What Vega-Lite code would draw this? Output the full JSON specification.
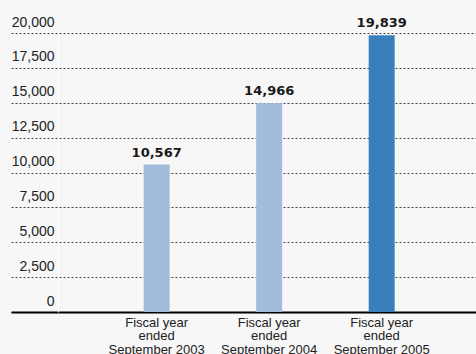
{
  "$schema": "https://vega.github.io/schema/vega-lite/v6.json",
  "autosize": "none",
  "width": 465,
  "height": 279,
  "padding": {"left": 11, "top": 33, "right": 0, "bottom": 42},
  "background": "#f7f7f7",
  "config": {"view": {"stroke": null}, "font": "Liberation Sans"},
  "data": {"values": [
    {"period": "2003", "revenue": 10567},
    {"period": "2004", "revenue": 14966},
    {"period": "2005", "revenue": 19839}
  ]},
  "encoding": {
    "x": {"field": "period", "type": "nominal", "sort": null,
      "scale": {"paddingInner": 0.769, "paddingOuter": 0.951, "align": 0.62},
      "axis": {"title": null, "ticks": false, "domainColor": "#000", "domainWidth": 2,
        "labelAngle": 0, "labelFontSize": 13, "labelColor": "#222", "labelPadding": 4,
        "labelLineHeight": 13.5, "labelBaseline": "top",
        "labelExpr": "['Fiscal year', 'ended', 'September ' + datum.label]"}},
    "y": {"field": "revenue", "type": "quantitative",
      "scale": {"domain": [0, 20000], "nice": false},
      "axis": {"title": null, "values": [0, 2500, 5000, 7500, 10000, 12500, 15000, 17500, 20000],
        "format": ",d", "offset": -47, "domain": true, "domainColor": "#ffffff", "domainWidth": 1,
        "ticks": false, "labelPadding": 4, "labelFontSize": 14, "labelColor": "#222",
        "labelBaseline": "alphabetic", "labelOffset": -7,
        "grid": true, "gridColor": "#444", "gridDash": [2, 2], "gridWidth": 1, "gridOpacity": 1}}
  },
  "layer": [
    {"mark": {"type": "bar"},
     "encoding": {"color": {"field": "period", "type": "nominal", "legend": null,
       "scale": {"domain": ["2003", "2004", "2005"], "range": ["#a4bcdb", "#a4bcdb", "#3a7fbb"]}}}},
    {"mark": {"type": "text", "font": "DejaVu Sans", "fontWeight": "bold", "fontSize": 13, "dy": -8, "baseline": "alphabetic", "color": "#1a1a1a"},
     "encoding": {"text": {"field": "revenue", "type": "quantitative", "format": ",d"}}}
  ]
}
